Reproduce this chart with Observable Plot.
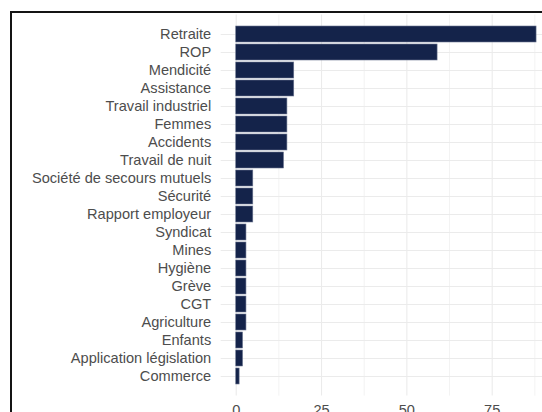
<!DOCTYPE html>
<html>
<head>
<meta charset="utf-8">
<script src="https://cdn.jsdelivr.net/npm/d3@7"></script>
<script src="https://cdn.jsdelivr.net/npm/@observablehq/plot@0.6"></script>
<style>
  html, body { margin: 0; padding: 0; background: #fff; }
  #wrap { position: relative; width: 542px; height: 412px; overflow: hidden; }
  #frame { position: absolute; left: 10px; top: 11px; width: 600px; height: 500px;
           border-top: 2px solid #141414; border-left: 2px solid #141414; pointer-events: none; }
</style>
</head>
<body>
<div id="wrap"><div id="chart"></div><div id="frame"></div></div>
<script>
const categories = ["Retraite","ROP","Mendicité","Assistance","Travail industriel","Femmes","Accidents","Travail de nuit","Société de secours mutuels","Sécurité","Rapport employeur","Syndicat","Mines","Hygiène","Grève","CGT","Agriculture","Enfants","Application législation","Commerce"];
const counts = [88,59,17,17,15,15,15,14,5,5,5,3,3,3,3,3,3,2,2,1];
const xTicks = [0,25,50,75];
const xMinor = [12.5,37.5,62.5,87.5];

const data = categories.map((c, i) => ({cat: c, value: counts[i]}));
const gridColor = "#ebebeb";

const plot = Plot.plot({
  width: 542,
  height: 412,
  marginLeft: 220.7,
  marginRight: 0,
  marginTop: 14.5,
  marginBottom: 16.4,
  style: {fontFamily: "'Liberation Sans', Arial, sans-serif", fontSize: "14.6px", color: "#4d4d4d", background: "white"},
  x: {domain: [-4.4, 89.74]},
  y: {domain: categories, paddingInner: 0.1, paddingOuter: 0.15},
  marks: [
    Plot.ruleX(xMinor, {stroke: gridColor, strokeWidth: 0.6}),
    Plot.ruleX(xTicks, {stroke: gridColor, strokeWidth: 1.1}),
    Plot.gridY ? Plot.gridY({stroke: gridColor, strokeOpacity: 1, strokeWidth: 1.1}) : null,
    Plot.barX(data, {x: "value", y: "cat", fill: "#14234a", stroke: "#6b7590", strokeWidth: 0.6}),
    Plot.axisY({tickSize: 0, tickPadding: 10, label: null, fill: "#4d4d4d"}),
    Plot.axisX({ticks: xTicks, tickSize: 0, tickPadding: 9, label: null, fill: "#4d4d4d"})
  ]
});
document.getElementById("chart").appendChild(plot);
</script>
</body>
</html>
